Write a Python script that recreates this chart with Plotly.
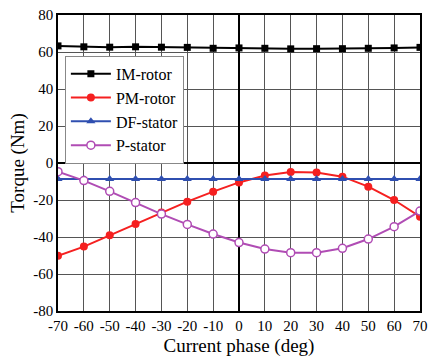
import plotly.graph_objects as go

phase = [-70, -60, -50, -40, -30, -20, -10, 0, 10, 20, 30, 40, 50, 60, 70]
im_rotor = [63.3, 62.8, 62.6, 62.8, 62.6, 62.5, 62.0, 62.2, 62.0, 61.7, 61.8, 61.8, 62.0, 62.2, 62.5]
pm_rotor = [-50.1, -45.2, -39.1, -33.0, -26.8, -20.9, -15.5, -10.5, -6.8, -4.9, -5.2, -7.4, -12.8, -20.0, -29.0]
df_stator = [-8.6, -8.6, -8.6, -8.6, -8.6, -8.6, -8.6, -8.6, -8.6, -8.6, -8.6, -8.6, -8.6, -8.6, -8.6]
p_stator = [-4.7, -9.5, -15.3, -21.4, -27.6, -33.2, -38.4, -43.0, -46.5, -48.5, -48.5, -46.1, -41.1, -34.4, -26.0]

x_ticks = [-70, -60, -50, -40, -30, -20, -10, 0, 10, 20, 30, 40, 50, 60, 70]
y_ticks = [-80, -60, -40, -20, 0, 20, 40, 60, 80]

font_family = "Liberation Serif, Times New Roman, serif"

fig = go.Figure()
fig.add_trace(go.Scatter(x=phase, y=im_rotor, name="IM-rotor", mode="lines+markers",
                         line=dict(color="black", width=2),
                         marker=dict(symbol="square", size=7, color="black")))
fig.add_trace(go.Scatter(x=phase, y=pm_rotor, name="PM-rotor", mode="lines+markers",
                         line=dict(color="#f52020", width=2),
                         marker=dict(symbol="circle", size=8, color="#f52020")))
fig.add_trace(go.Scatter(x=phase, y=df_stator, name="DF-stator", mode="lines+markers",
                         line=dict(color="#2f4fb0", width=2),
                         marker=dict(symbol="triangle-up", size=8, color="#2f4fb0")))
fig.add_trace(go.Scatter(x=phase, y=p_stator, name="P-stator", mode="lines+markers",
                         line=dict(color="#b04cb4", width=2),
                         marker=dict(symbol="circle", size=8, color="white",
                                     line=dict(color="#b04cb4", width=1.5))))

fig.update_layout(
    width=433, height=363,
    margin=dict(l=58, r=5, t=15, b=52),
    paper_bgcolor="white", plot_bgcolor="white",
    font=dict(family=font_family, size=14, color="black"),
    showlegend=True,
    legend=dict(x=0.019, y=0.862, xanchor="left", yanchor="top",
                bgcolor="white", bordercolor="#888", borderwidth=1,
                font=dict(family=font_family, size=16, color="black"),
                tracegroupgap=0, itemwidth=40),
)
fig.update_xaxes(range=[-70, 70], tickvals=x_ticks, ticktext=[str(v) for v in x_ticks],
                 showgrid=True, gridcolor="#555", gridwidth=1,
                 zeroline=True, zerolinecolor="black", zerolinewidth=2,
                 showline=True, linecolor="black", linewidth=1.5, mirror=True,
                 ticks="", tickfont=dict(size=15), ticklabeloverflow="allow",
                 title=dict(text="Current phase (deg)", font=dict(size=19), standoff=6))
fig.update_yaxes(range=[-80, 80], tickvals=y_ticks, ticktext=[str(v) for v in y_ticks],
                 showgrid=True, gridcolor="#555", gridwidth=1,
                 zeroline=True, zerolinecolor="black", zerolinewidth=2,
                 showline=True, linecolor="black", linewidth=1.5, mirror=True,
                 ticks="", tickfont=dict(size=15),
                 title=dict(text="Torque (Nm)", font=dict(size=19), standoff=4))

fig.write_html("out.html", config={"displayModeBar": False},
               post_script="document.body.style.margin='0px';document.body.style.padding='0px';")
